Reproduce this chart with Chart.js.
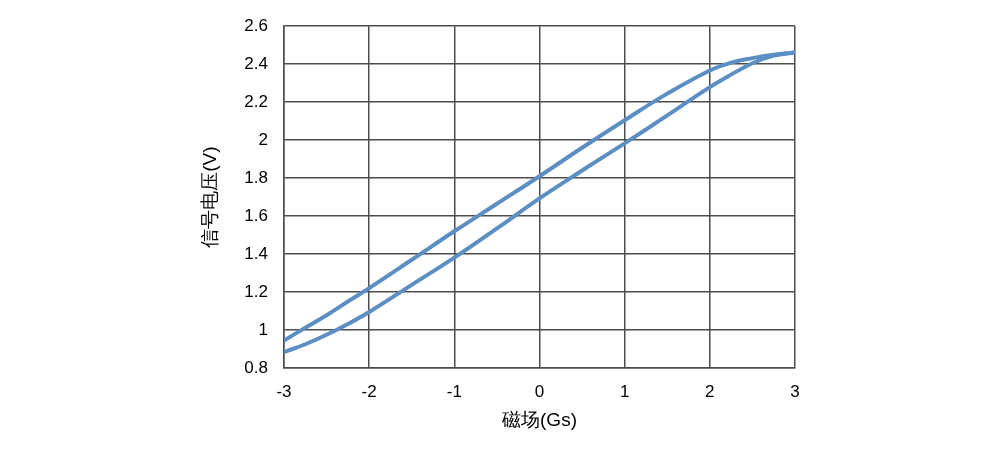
<!DOCTYPE html>
<html>
<head>
<meta charset="utf-8">
<script src="https://cdn.jsdelivr.net/npm/chart.js@4/dist/chart.umd.min.js"></script>
<style>
  html, body { margin: 0; padding: 0; background: #fff; }
  #wrap { width: 1000px; height: 450px; }
</style>
</head>
<body>
<div id="wrap"><canvas id="chart" width="1000" height="450"></canvas></div>
<script>
// magnetic field (Gs) sample points
const field = [-3, -2.75, -2.5, -2.25, -2, -1.5, -1, -0.5, 0, 0.5, 1, 1.5, 2, 2.25, 2.5, 2.75, 3];
// upper branch of the loop (V)
const upperBranch = [0.945, 1.012, 1.078, 1.15, 1.221, 1.37, 1.52, 1.665, 1.81, 1.96, 2.105, 2.245, 2.367, 2.408, 2.432, 2.45, 2.462];
// lower branch of the loop (V)
const lowerBranch = [0.884, 0.925, 0.975, 1.032, 1.095, 1.238, 1.381, 1.535, 1.693, 1.84, 1.983, 2.13, 2.279, 2.345, 2.405, 2.445, 2.462];

const xTicks = [-3, -2, -1, 0, 1, 2, 3];
const yTicks = [0.8, 1, 1.2, 1.4, 1.6, 1.8, 2, 2.2, 2.4, 2.6];

const lineColor = "#5b8fc4";
const gridColor = "#4d4d4d";
const font = "'Liberation Sans', Arial, sans-serif";

const toPoints = (ys) => field.map((x, i) => ({ x: x, y: ys[i] }));

new Chart(document.getElementById("chart").getContext("2d"), {
  type: "scatter",
  data: {
    datasets: [
      { label: "upper", data: toPoints(upperBranch) },
      { label: "lower", data: toPoints(lowerBranch) },
    ].map((d) => Object.assign(d, {
      showLine: true,
      borderColor: lineColor,
      borderWidth: 4,
      pointRadius: 0,
      fill: false,
      tension: 0.4,
    })),
  },
  options: {
    responsive: false,
    animation: false,
    layout: { padding: { left: 195, right: 205, top: 14, bottom: 14 } },
    plugins: { legend: { display: false }, tooltip: { enabled: false } },
    scales: {
      x: {
        type: "linear",
        min: -3,
        max: 3,
        afterBuildTicks: (s) => { s.ticks = xTicks.map((v) => ({ value: v })); },
        afterFit: (s) => { s.height = 450 - 14 - 368; },
        ticks: { color: "#000", font: { family: font, size: 17 }, padding: 14 },
        grid: { color: gridColor, lineWidth: 1.5, drawTicks: false },
        border: { color: gridColor, width: 1.5 },
        title: { display: true, text: "磁场(Gs)", color: "#000", font: { family: font, size: 19 }, padding: { top: 2 } },
      },
      y: {
        min: 0.8,
        max: 2.6,
        afterBuildTicks: (s) => { s.ticks = yTicks.map((v) => ({ value: v })); },
        afterFit: (s) => { s.width = 284 - 195; },
        ticks: { color: "#000", font: { family: font, size: 17 }, padding: 16, callback: (v) => String(Math.round(v * 10) / 10) },
        grid: { color: gridColor, lineWidth: 1.5, drawTicks: false },
        border: { color: gridColor, width: 1.5 },
        title: { display: true, text: "信号电压(V)", color: "#000", font: { family: font, size: 19 }, padding: { bottom: 0 } },
      },
    },
  },
});
</script>
</body>
</html>
